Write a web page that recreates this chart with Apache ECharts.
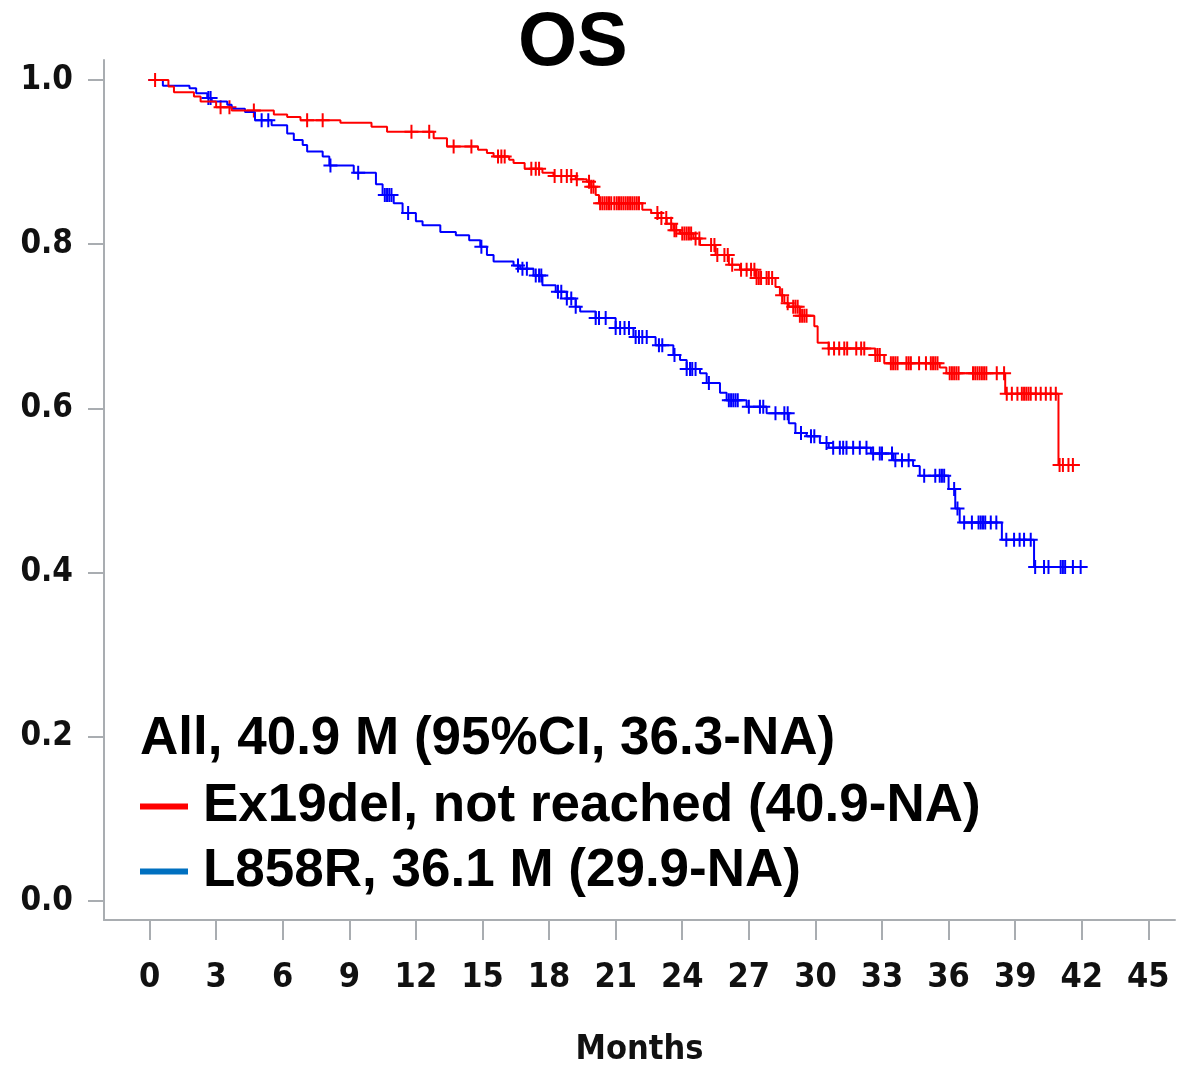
<!DOCTYPE html>
<html><head><meta charset="utf-8">
<script src="https://cdn.jsdelivr.net/npm/echarts@6/dist/echarts.min.js"></script>
<style>html,body{margin:0;padding:0;background:#fff}#c{width:1178px;height:1074px}</style>
</head><body><div id="c"></div>
<script>
const chartTitle = 'OS';
const xAxisName = 'Months';
const xTicks = [0,3,6,9,12,15,18,21,24,27,30,33,36,39,42,45];
const yTicks = [0,0.2,0.4,0.6,0.8,1.0];
const legendHeader = 'All, 40.9 M (95%CI, 36.3-NA)';
const redName = 'Ex19del, not reached (40.9-NA)';
const blueName = 'L858R, 36.1 M (29.9-NA)';

// Ex19del (red) KM steps
const redTimes = [0,0.85,1.1,2.0,2.3,3.0,3.7,5.6,6.2,6.8,8.6,10.0,10.7,12.8,13.4,14.8,15.2,15.5,16.2,16.4,16.9,17.7,18.2,19.2,19.7,19.9,20.1,20.25,22.2,22.6,22.9,23.3,23.6,23.9,24.5,24.8,25.5,26.1,26.6,27.3,28.2,28.4,28.6,28.8,29.3,29.95,30.1,30.6,32.7,33.1,35.6,35.9,38.55,40.95];
const redSurv  = [1.0,0.992,0.985,0.980,0.974,0.967,0.963,0.958,0.955,0.951,0.948,0.943,0.937,0.929,0.919,0.915,0.911,0.907,0.903,0.899,0.892,0.887,0.883,0.879,0.876,0.870,0.860,0.850,0.842,0.838,0.832,0.825,0.817,0.813,0.807,0.799,0.787,0.775,0.769,0.759,0.748,0.738,0.728,0.724,0.713,0.700,0.680,0.673,0.665,0.655,0.650,0.643,0.618,0.531];
const redEnd = 41.6;
const redCensor = [0.25,3.2,3.6,4.7,7.1,7.8,11.8,12.6,13.7,14.5,15.7,15.85,16.0,17.2,17.4,17.55,18.25,18.55,18.8,19.0,19.25,19.8,19.9,20.0,
  20.3,20.4,20.5,20.6,20.7,20.8,20.94,21.05,21.15,21.25,21.35,21.45,21.55,21.65,21.75,21.85,21.95,22.05,
  22.88,23.06,23.28,23.5,23.65,23.73,24.0,24.1,24.2,24.3,24.4,24.6,24.77,25.3,25.45,25.58,25.9,26.05,26.25,26.65,26.9,27.1,
  27.25,27.35,27.45,27.55,27.8,27.9,28.05,28.5,28.75,29.0,29.1,29.2,29.3,29.4,29.5,29.6,
  30.6,30.84,31.07,31.3,31.43,31.84,32.06,32.2,32.7,32.8,32.9,33.4,33.5,33.6,33.7,34.1,34.2,34.3,34.67,34.98,
  35.2,35.3,35.4,35.5,36.05,36.15,36.25,36.35,36.45,37.1,37.2,37.3,37.4,37.5,37.6,37.7,38.17,38.5,
  38.62,38.85,39.1,39.3,39.4,39.5,39.6,39.7,39.93,40.15,40.38,40.6,40.83,41.0,41.15,41.4,41.6];

// L858R (blue) KM steps
const blueTimes = [0,0.6,1.8,2.1,2.6,2.8,3.5,3.7,4.3,4.75,5.5,6.2,6.5,6.9,7.1,7.8,8.1,9.2,10.2,10.5,11.0,11.4,12.0,12.3,13.1,13.8,14.4,14.9,15.2,15.5,16.4,16.7,17.3,17.7,18.3,18.8,19.2,19.4,20.1,21.0,21.8,22.8,23.6,23.9,24.2,24.8,25.1,25.7,26.0,26.9,27.8,28.8,29.1,29.6,30.2,30.6,32.5,33.5,34.4,34.7,36.0,36.3,36.5,38.4,39.85];
const blueSurv  = [1.0,0.993,0.990,0.984,0.978,0.974,0.970,0.965,0.961,0.951,0.945,0.935,0.927,0.921,0.913,0.907,0.896,0.887,0.873,0.860,0.850,0.838,0.828,0.823,0.815,0.811,0.805,0.797,0.787,0.779,0.774,0.770,0.762,0.750,0.742,0.734,0.724,0.718,0.710,0.698,0.687,0.677,0.665,0.659,0.648,0.643,0.631,0.619,0.610,0.602,0.594,0.582,0.570,0.566,0.558,0.552,0.545,0.537,0.530,0.518,0.502,0.478,0.461,0.440,0.407];
const blueEnd = 41.95;
const blueCensor = [2.65,2.75,5.05,5.35,8.15,9.4,10.6,10.7,10.8,10.9,11.65,14.95,16.6,16.8,17.0,17.4,17.55,17.65,18.4,18.55,18.8,19.0,19.2,
  20.1,20.25,20.55,21.0,21.2,21.4,21.6,21.9,22.05,22.2,22.4,22.95,23.1,23.65,24.2,24.35,24.45,24.6,25.2,26.1,26.2,26.3,26.4,26.5,
  27.0,27.5,27.65,28.2,28.6,28.75,29.35,29.8,29.95,30.5,30.8,31.1,31.25,31.4,31.7,32.0,32.3,32.6,32.9,33.0,33.45,33.6,33.9,34.2,
  34.9,35.4,35.6,35.7,35.8,36.25,36.4,36.7,37.05,37.35,37.45,37.55,37.65,37.9,38.15,38.6,38.95,39.2,39.4,39.7,39.9,40.3,40.5,
  41.05,41.15,41.25,41.6,41.95];

const redColor = '#ff0000', blueColor = '#0000ff', blueLegendColor = '#0070c0';
const axisColor = '#a9adb1';
const tickFont = '"DejaVu Sans Condensed", "DejaVu Sans"';

function stepData(times, surv, end) {
  const d = times.map((t, i) => [t, surv[i]]);
  d.push([end, surv[surv.length - 1]]);
  return d;
}
function survAt(times, surv, t) {
  let s = surv[0];
  for (let i = 0; i < times.length; i++) if (times[i] <= t) s = surv[i];
  return s;
}
function censorData(times, surv, cens) {
  return cens.map(t => [t, survAt(times, surv, t)]);
}
const plusSymbol = 'path://M6,0h2v14h-2zM0,6h14v2h-14z';
const legendTextStyle = {fontFamily: 'Liberation Sans', fontWeight: 'bold', fontSize: 53, color: '#000'};

const chart = echarts.init(document.getElementById('c'), null, {renderer: 'canvas'});
chart.setOption({
  animation: false,
  backgroundColor: '#ffffff',
  title: {
    text: chartTitle, left: 513, top: 1,
    textStyle: {fontFamily: 'Liberation Sans', fontWeight: 'bold', fontSize: 76, color: '#000'}
  },
  grid: {left: 104, top: 60, right: 3, bottom: 154, containLabel: false},
  xAxis: {
    type: 'value', min: -2.052, max: 46.2,
    axisLine: {show: true, onZero: false, lineStyle: {color: axisColor, width: 2}},
    axisTick: {show: true, customValues: xTicks, length: 20, lineStyle: {color: axisColor, width: 2}},
    axisLabel: {customValues: xTicks, margin: 41, fontFamily: tickFont, fontWeight: 'bold', fontSize: 34, color: '#111'},
    splitLine: {show: false},
    name: xAxisName, nameLocation: 'middle', nameGap: 113,
    nameTextStyle: {fontFamily: tickFont, fontWeight: 'bold', fontSize: 34, color: '#111'}
  },
  yAxis: {
    type: 'value', min: -0.0231, max: 1.0244,
    axisLine: {show: true, onZero: false, lineStyle: {color: axisColor, width: 2}},
    axisTick: {show: true, customValues: yTicks, length: 16, lineStyle: {color: axisColor, width: 2}},
    axisLabel: {customValues: yTicks, margin: 31, formatter: v => v.toFixed(1), fontFamily: tickFont, fontWeight: 'bold', fontSize: 33, color: '#111'},
    splitLine: {show: false}
  },
  legend: {
    orient: 'vertical', left: 140, top: 780, padding: 0, itemWidth: 48, itemHeight: 6, itemGap: 12,
    icon: 'rect', selectedMode: false,
    formatter: name => '{s|}{t|' + name + '}',
    textStyle: Object.assign({}, legendTextStyle, {rich: {s: {width: 10, height: 10}, t: Object.assign({}, legendTextStyle)}}),
    data: [
      {name: redName, itemStyle: {color: redColor}},
      {name: blueName, itemStyle: {color: blueLegendColor}}
    ]
  },
  graphic: [{
    type: 'text', left: 140, top: 713,
    style: {text: legendHeader, font: 'bold 53px "Liberation Sans"', fill: '#000'}
  }],
  series: [
    {name: blueName, type: 'line', step: 'end', showSymbol: false, silent: true, color: blueColor,
     lineStyle: {color: blueColor, width: 2}, data: stepData(blueTimes, blueSurv, blueEnd)},
    {name: redName, type: 'line', step: 'end', showSymbol: false, silent: true, color: redColor,
     lineStyle: {color: redColor, width: 2}, data: stepData(redTimes, redSurv, redEnd)},
    {name: 'L858R censored', type: 'scatter', silent: true, symbol: plusSymbol, symbolSize: 14,
     itemStyle: {color: blueColor, opacity: 1}, data: censorData(blueTimes, blueSurv, blueCensor)},
    {name: 'Ex19del censored', type: 'scatter', silent: true, symbol: plusSymbol, symbolSize: 14,
     itemStyle: {color: redColor, opacity: 1}, data: censorData(redTimes, redSurv, redCensor)}
  ]
});
</script></body></html>
